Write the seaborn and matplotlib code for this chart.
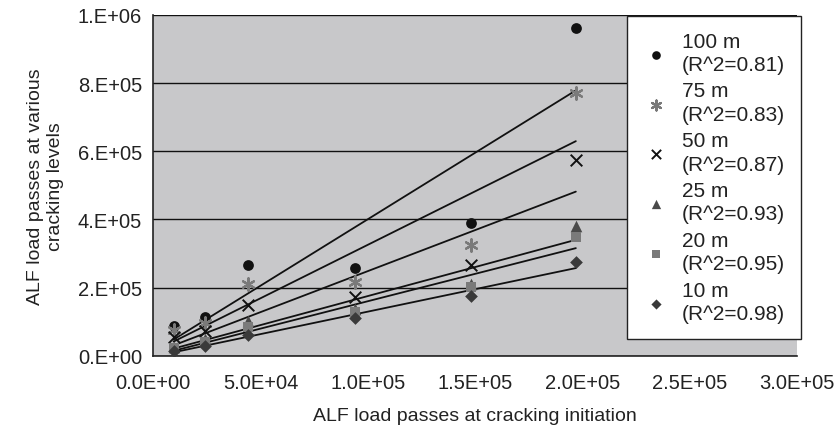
import numpy as np
import pandas as pd
import matplotlib
matplotlib.use('Agg')
import matplotlib.pyplot as plt
import seaborn as sns

# ALF load passes at cracking initiation
initiation = [9500, 24000, 44000, 94000, 148000, 197000]

# load passes at the various cracking levels
passes_100m = [88000, 114000, 266000, 257000, 391000, 962000]
passes_75m = [75000, 95000, 210000, 216000, 326000, 770000]
passes_50m = [55000, 73000, 149000, 172000, 266000, 575000]
passes_25m = [27000, 50000, 102000, 137000, 212000, 382000]
passes_20m = [22000, 41000, 85000, 128000, 201000, 350000]
passes_10m = [15000, 30000, 62000, 112000, 175000, 274000]

series_names = ['100 m\n(R^2=0.81)', '75 m\n(R^2=0.83)', '50 m\n(R^2=0.87)',
                '25 m\n(R^2=0.93)', '20 m\n(R^2=0.95)', '10 m\n(R^2=0.98)']
series_values = [passes_100m, passes_75m, passes_50m, passes_25m, passes_20m, passes_10m]

x_ticks = [0, 50000, 100000, 150000, 200000, 250000, 300000]
x_tick_labels = ['0.0E+00', '5.0E+04', '1.0E+05', '1.5E+05', '2.0E+05', '2.5E+05', '3.0E+05']
y_ticks = [0, 200000, 400000, 600000, 800000, 1000000]
y_tick_labels = ['0.E+00', '2.E+05', '4.E+05', '6.E+05', '8.E+05', '1.E+06']

# marker, colour, size, edge width
styles = [
    ('o', '#111111', 60, 0.0),
    ((6, 2, 0), '#7a7a7a', 80, 1.6),
    ('x', '#111111', 70, 1.4),
    ('^', '#4a4a4a', 70, 0.0),
    ('s', '#7a7a7a', 50, 0.0),
    ('D', '#3a3a3a', 42, 0.0),
]

sns.set_style('white')
plt.rcParams['font.family'] = ['Liberation Sans', 'DejaVu Sans']

fig = plt.figure(figsize=(8.37, 4.31), dpi=100)
ax = fig.add_axes([0.183, 0.172, 0.769, 0.791])
ax.set_facecolor('#c8c8ca')

for name, vals, (mk, col, sz, lw) in zip(series_names, series_values, styles):
    df = pd.DataFrame({'x': initiation, 'y': vals})
    sns.regplot(data=df, x='x', y='y', ax=ax, ci=None, truncate=True,
                marker=mk, color=col, label=name,
                scatter_kws=dict(s=sz, linewidths=lw, alpha=1, zorder=3),
                line_kws=dict(color='#111111', lw=1.3, zorder=2))

ax.set_xlim(0, 300000)
ax.set_ylim(0, 1000000)
ax.set_xticks(x_ticks)
ax.set_xticklabels(x_tick_labels)
ax.set_yticks(y_ticks)
ax.set_yticklabels(y_tick_labels)
ax.yaxis.grid(True, color='#111111', lw=1.0)
ax.xaxis.grid(False)
ax.set_axisbelow(True)
for side in ['top', 'right']:
    ax.spines[side].set_visible(False)
for side in ['left', 'bottom']:
    ax.spines[side].set_color('#222222')
    ax.spines[side].set_linewidth(1.2)
ax.tick_params(axis='both', direction='out', length=5, width=1.2, color='#222222',
               labelsize=14.5, labelcolor='#222222', pad=3)
ax.tick_params(axis='x', pad=7)

ax.set_xlabel('ALF load passes at cracking initiation', fontsize=14, color='#222222', labelpad=11)
ax.set_ylabel('ALF load passes at various\ncracking levels', fontsize=14, color='#222222', labelpad=10)

leg = ax.legend(loc='upper left', bbox_to_anchor=(627 / 837, 1 - 17 / 431),
                bbox_transform=fig.transFigure, frameon=True, fancybox=False,
                edgecolor='#222222', framealpha=1, fontsize=15, labelspacing=0.35,
                handletextpad=0.6, borderpad=0.75, handlelength=1.3, borderaxespad=0,
                markerscale=0.8)
leg.get_frame().set_linewidth(1.0)
for t in leg.get_texts():
    t.set_color('#222222')
    t.set_linespacing(1.3)

fig.savefig('out.png', dpi=100)
